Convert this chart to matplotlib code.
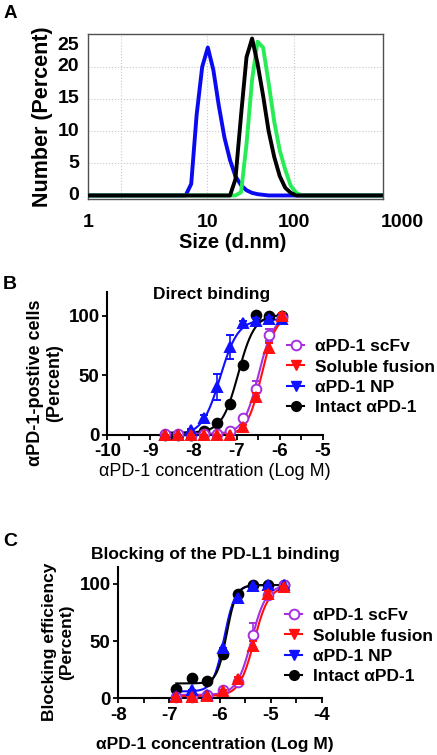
import numpy as np
import matplotlib
matplotlib.use("Agg")
import matplotlib.pyplot as plt
from matplotlib.lines import Line2D
from matplotlib.ticker import MultipleLocator

plt.rcParams['font.family'] = ['Liberation Sans', 'DejaVu Sans']

W, H = 437, 755

# ---- panel A: DLS size distribution (number %) ----
size_nm = [0.42, 5.6, 6.5, 7.5, 8.7, 10.1, 11.7, 13.5, 15.7, 18.2, 21.0, 24.4, 28.2,
           32.7, 37.8, 43.8, 50.7, 58.8, 68.1, 78.8, 91.3, 105.7, 122.4, 1000]
np_blue = [0, 0, 1.8, 12.5, 20.0, 23.0, 19.5, 14.0, 9.0, 5.5, 3.0, 1.6, 0.8,
           0.4, 0.2, 0.1, 0, 0, 0, 0, 0, 0, 0, 0]
np_green = [0, 0, 0, 0, 0, 0, 0, 0, 0, 0, 0, 0.5, 8.0,
            18.0, 23.9, 23.0, 17.5, 11.5, 7.0, 4.0, 1.5, 0.4, 0, 0]
np_black = [0, 0, 0, 0, 0, 0, 0, 0, 0, 0, 2.5, 12.5, 21.5,
            24.4, 20.5, 15.5, 10.0, 6.0, 3.0, 1.2, 0.4, 0, 0, 0]
a_ytick_pos = [0, 5, 10, 15, 20, 23.3]
a_ytick_lab = ['0', '5', '10', '15', '20', '25']
a_xtick_pos = [0.42, 10, 100, 1740]
a_xtick_lab = ['1', '10', '100', '1000']

# ---- panel B: direct binding ----
b_x = [-8.66, -8.36, -8.06, -7.76, -7.46, -7.16, -6.86, -6.55, -6.25, -5.95]
b_scfv = [1, 1, 0, 1, 1, 3, 14, 39, 84, 98]
b_scfv_err = [0, 0, 0, 0, 0, 1, 2, 6, 5, 2]
b_fusion = [0, 0, 0, 0, 0, 0, 7, 32, 73, 100]
b_fusion_err = [0, 0, 0, 0, 0, 0, 1, 3, 4, 2]
b_np = [0, 0, 4, 14, 40, 74, 94, 96, 97, 97]
b_np_err = [0, 0, 1, 3, 11, 10, 2, 2, 2, 2]
b_intact = [0, 0, 0, 3, 10, 26, 59, 101, 100, 100]
# 4PL fit parameters: bottom, top, logEC50, hill
b_fit = {'scfv': (1, 100, -6.49, 2.5), 'fusion': (0, 101, -6.42, 2.6),
         'np': (0, 97, -7.38, 2.1), 'intact': (2, 101, -6.96, 2.3)}

# ---- panel C: blocking of PD-L1 binding ----
c_x = [-6.86, -6.56, -6.25, -5.95, -5.65, -5.35, -5.05, -4.75]
c_scfv = [1, 1.5, 3, 7, 14, 55, 90, 99]
c_scfv_err = [0, 0, 0, 1, 2, 11, 3, 1]
c_fusion = [1, 1, 2, 6, 17, 46, 91, 97]
c_fusion_err = [0, 0, 0, 1, 2, 4, 3, 1]
c_np = [2, 7.5, 3, 44, 88, 98, 99, 99]
c_intact = [8, 18, 15.5, 39, 91, 99, 99, 99]
c_fit = {'scfv': (3, 99, -5.38, 3.0), 'fusion': (2, 98, -5.33, 3.0),
         'np': (6, 99, -5.92, 4.0), 'intact': (13, 99, -5.87, 4.6)}

names = ['\u03b1PD-1 scFv', 'Soluble fusion', '\u03b1PD-1 NP', 'Intact \u03b1PD-1']
PURPLE, RED, BLUE, BLACK = '#A530E0', '#FF1010', '#1010FF', 'black'


def px(x, y):
    return x / W, 1 - y / H


def axes_px(fig, l, t, r, b):
    return fig.add_axes([l / W, 1 - b / H, (r - l) / W, (b - t) / H])


def logistic(x, p):
    bot, top, ec, h = p
    return bot + (top - bot) / (1 + 10 ** ((ec - x) * h))


fig = plt.figure(figsize=(W / 100, H / 100), dpi=100)

# ---------------- A ----------------
axA = axes_px(fig, 88, 34, 383, 199)
axA.plot(size_nm, np_blue, color='#0A0AF0', lw=2.8, zorder=3)
axA.plot(size_nm, np_green, color='#28EC55', lw=2.8, zorder=3)
axA.plot(size_nm, np_black, color='black', lw=2.8, zorder=4)
axA.set_xscale('log')
axA.set_xlim(0.42, 1055)
axA.set_ylim(-0.55, 25.1)
axA.set_xticks([1, 10, 100], minor=False)
axA.xaxis.set_minor_locator(plt.NullLocator())
axA.set_yticks([5, 10, 15, 20])
axA.grid(True, color='#c8c8c8', ls=':', lw=0.8)
axA.tick_params(length=0, labelbottom=False, labelleft=False)
for s in axA.spines.values():
    s.set_color('#505050')
    s.set_linewidth(1.0)
for v, lab in zip(a_ytick_pos, a_ytick_lab):
    axA.text(-0.03, v, lab, transform=axA.get_yaxis_transform(), ha='right',
             va='center', fontsize=14, fontweight='bold')
for v, lab in zip(a_xtick_pos, a_xtick_lab):
    axA.text(v, -0.09, lab, transform=axA.get_xaxis_transform(), ha='center',
             va='top', fontsize=14, fontweight='bold')
fig.text(*px(42.5, 117), 'Number (Percent)', rotation=90, ha='center', va='center',
         fontsize=15.5, fontweight='bold')
fig.text(*px(233, 243), 'Size (d.nm)', ha='center', va='center',
         fontsize=14.5, fontweight='bold')


def dose_panel(ax, x, series, errs, fits, xlim, ylim, xr):
    xs = np.linspace(xr[0], xr[1], 300)
    cols = [PURPLE, RED, BLUE, BLACK]
    keys = ['scfv', 'fusion', 'np', 'intact']
    marks = ['o', '^', '^', 'o']
    order = [1, 3, 2, 0]
    for i in order:
        ax.plot(xs, logistic(xs, fits[keys[i]]), color=cols[i], lw=1.5, zorder=2 + i * 0.1)
    for i in order:
        face = 'white' if i == 0 else cols[i]
        ax.errorbar(x, series[i], yerr=errs[i], fmt=marks[i], color=cols[i], ms=7,
                    mfc=face, mec=cols[i], mew=1.4, elinewidth=1.2, capsize=3,
                    capthick=1.2, zorder=5 - i * 0.2 if i else 4.5, clip_on=False)
    ax.set_xlim(*xlim)
    ax.set_ylim(*ylim)
    for s in ['top', 'right']:
        ax.spines[s].set_visible(False)
    for s in ['left', 'bottom']:
        ax.spines[s].set_linewidth(1.5)
    ax.xaxis.set_major_locator(MultipleLocator(1))
    ax.xaxis.set_minor_locator(MultipleLocator(0.5))
    ax.set_yticks([0, 50, 100])
    ax.tick_params(which='both', direction='out', length=3.5, width=1.3, labelsize=13.5)
    ax.tick_params(axis='x', pad=2.5)
    ax.tick_params(axis='y', pad=2)
    for lab in ax.get_xticklabels() + ax.get_yticklabels():
        lab.set_fontweight('bold')
    ax.xaxis.set_major_formatter(plt.FuncFormatter(lambda v, p: '%d' % round(v)))


def legend_at(fig, x, y):
    handles = [
        Line2D([], [], color=PURPLE, marker='o', mfc='white', mew=1.4, ms=7, lw=1.5),
        Line2D([], [], color=RED, marker='v', ms=7, lw=1.5),
        Line2D([], [], color=BLUE, marker='v', ms=7, lw=1.5),
        Line2D([], [], color=BLACK, marker='o', ms=7, lw=1.5),
    ]
    fig.legend(handles, names, loc='upper left', bbox_to_anchor=px(x, y), frameon=False,
               prop={'weight': 'bold', 'size': 12.5}, handlelength=1.0, handletextpad=0.6,
               labelspacing=0.3, borderpad=0, borderaxespad=0)


# ---------------- B ----------------
axB = axes_px(fig, 107.3, 292, 322.7, 435)
dose_panel(axB, b_x, [b_scfv, b_fusion, b_np, b_intact],
           [b_scfv_err, b_fusion_err, b_np_err, [0] * len(b_x)], b_fit,
           (-10, -5), (0, 120), (b_x[0], b_x[-1]))
fig.text(*px(212, 295), 'Direct binding', ha='center', va='center', fontsize=12.5,
         fontweight='bold')
fig.text(*px(45, 383), '\u03b1PD-1-postive cells\n(Percent)', rotation=90, ha='center',
         va='center', fontsize=13, fontweight='bold', linespacing=1.1)
fig.text(*px(215, 471), '\u03b1PD-1 concentration (Log M)', ha='center', va='center',
         fontsize=13)
legend_at(fig, 287, 339)

# ---------------- C ----------------
axC = axes_px(fig, 118.3, 566.7, 321.7, 698.3)
dose_panel(axC, c_x, [c_scfv, c_fusion, c_np, c_intact],
           [c_scfv_err, c_fusion_err, [0] * len(c_x), [0] * len(c_x)], c_fit,
           (-8, -4), (0, 115), (c_x[0], c_x[-1]))
fig.text(*px(215, 554), 'Blocking of the PD-L1 binding', ha='center', va='center',
         fontsize=12.5, fontweight='bold')
fig.text(*px(58, 642), 'Blocking efficiency\n(Percent)', rotation=90, ha='center',
         va='center', fontsize=12.5, fontweight='bold', linespacing=1.15)
fig.text(*px(215, 744), '\u03b1PD-1 concentration (Log M)', ha='center', va='center',
         fontsize=12.5, fontweight='bold')
legend_at(fig, 285, 608)

fig.text(*px(4, 14), 'A', ha='left', va='center', fontsize=13.5, fontweight='bold')
fig.text(*px(3, 285), 'B', ha='left', va='center', fontsize=14, fontweight='bold')
fig.text(*px(3, 542), 'C', ha='left', va='center', fontsize=14, fontweight='bold')

fig.savefig('out.png', dpi=100)
